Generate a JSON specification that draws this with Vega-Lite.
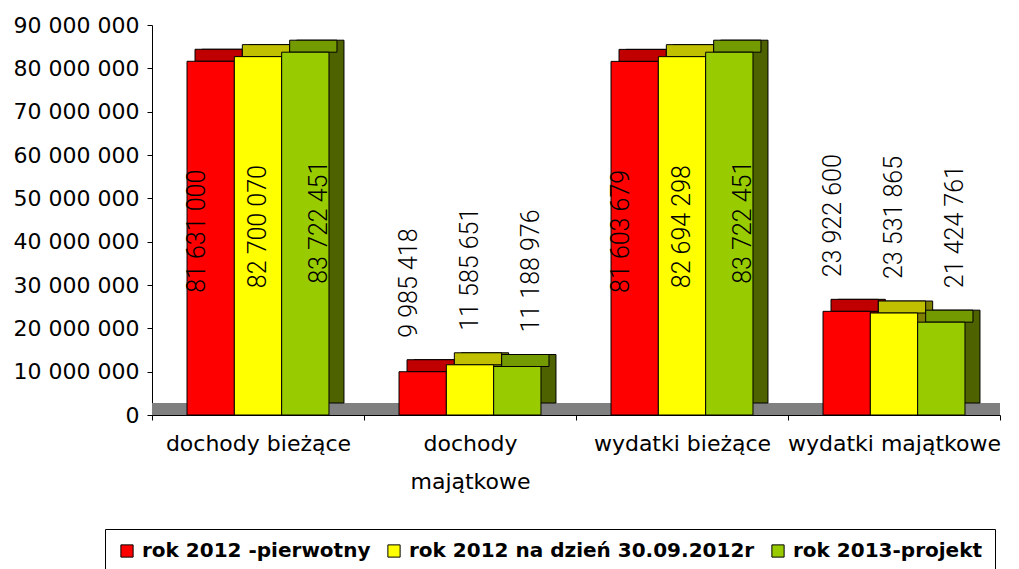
{
  "$schema": "https://vega.github.io/schema/vega-lite/v6.json",
  "width": 848,
  "height": 390,
  "autosize": {"type": "none"},
  "padding": {"left": 152, "top": 25, "right": 19, "bottom": 154},
  "background": "white",
  "config": {
    "locale": {"number": {"decimal": ",", "thousands": " ", "grouping": [3], "currency": ["", " zł"]}},
    "view": {"stroke": null}
  },
  "data": {
    "values": [
      {"kategoria": "dochody bieżące", "seria": "rok 2012 -pierwotny", "wartosc": 81631000},
      {"kategoria": "dochody bieżące", "seria": "rok 2012 na dzień 30.09.2012r", "wartosc": 82700070},
      {"kategoria": "dochody bieżące", "seria": "rok 2013-projekt", "wartosc": 83722451},
      {"kategoria": "dochody majątkowe", "seria": "rok 2012 -pierwotny", "wartosc": 9985418},
      {"kategoria": "dochody majątkowe", "seria": "rok 2012 na dzień 30.09.2012r", "wartosc": 11585651},
      {"kategoria": "dochody majątkowe", "seria": "rok 2013-projekt", "wartosc": 11188976},
      {"kategoria": "wydatki bieżące", "seria": "rok 2012 -pierwotny", "wartosc": 81603679},
      {"kategoria": "wydatki bieżące", "seria": "rok 2012 na dzień 30.09.2012r", "wartosc": 82694298},
      {"kategoria": "wydatki bieżące", "seria": "rok 2013-projekt", "wartosc": 83722451},
      {"kategoria": "wydatki majątkowe", "seria": "rok 2012 -pierwotny", "wartosc": 23922600},
      {"kategoria": "wydatki majątkowe", "seria": "rok 2012 na dzień 30.09.2012r", "wartosc": 23531865},
      {"kategoria": "wydatki majątkowe", "seria": "rok 2013-projekt", "wartosc": 21424761}
    ]
  },
  "resolve": {"scale": {"fill": "independent", "xOffset": "independent"}},
  "layer": [
    {
      "mark": {"type": "rule", "color": "#808080", "strokeWidth": 12, "yOffset": -6},
      "encoding": {"y": {"datum": 0, "type": "quantitative"}}
    },
    {
      "mark": {"type": "bar", "yOffset": -12, "y2Offset": -12, "stroke": "black", "strokeWidth": 1},
      "encoding": {
        "x": {"field": "kategoria", "type": "nominal", "sort": null, "scale": {"paddingInner": 0, "paddingOuter": 0}},
        "xOffset": {"field": "seria", "sort": null, "scale": {"paddingOuter": 0.74, "paddingInner": 0, "range": [15, 227]}},
        "y": {"field": "wartosc", "type": "quantitative", "stack": null},
        "y2": {"datum": 0},
        "fill": {"field": "seria", "sort": null, "scale": {"range": ["#800000", "#808000", "#4F6200"]}, "legend": null}
      }
    },
    {
      "mark": {"type": "bar", "yOffset": -12, "y2Offset": 0, "stroke": "black", "strokeWidth": 1},
      "encoding": {
        "x": {"field": "kategoria", "type": "nominal", "sort": null},
        "xOffset": {"field": "seria", "sort": null, "scale": {"paddingOuter": 0.74, "paddingInner": 0, "range": [8, 220]}},
        "y": {"field": "wartosc", "type": "quantitative", "stack": null},
        "y2": {"field": "wartosc"},
        "fill": {"field": "seria", "sort": null, "scale": {"range": ["#C00000", "#C0C000", "#739A00"]}, "legend": null}
      }
    },
    {
      "mark": {"type": "bar", "stroke": "black", "strokeWidth": 1},
      "encoding": {
        "x": {
          "field": "kategoria", "type": "nominal", "sort": null, "title": null,
          "axis": {
            "labelAngle": 0, "labelAlign": "center", "labelFont": "DejaVu Sans", "labelFontSize": 22, "labelColor": "black",
            "labelExpr": "datum.label == 'dochody majątkowe' ? ['dochody', 'majątkowe'] : datum.label",
            "labelLineHeight": 38, "labelPadding": 13, "labelBaseline": "top",
            "tickBand": "extent", "tickSize": 5, "tickColor": "black", "domainColor": "black", "labelLimit": 300
          }
        },
        "xOffset": {"field": "seria", "sort": null, "scale": {"paddingOuter": 0.74, "paddingInner": 0}},
        "y": {
          "field": "wartosc", "type": "quantitative", "stack": null, "title": null,
          "scale": {"domain": [0, 90000000], "nice": false},
          "axis": {
            "values": [0, 10000000, 20000000, 30000000, 40000000, 50000000, 60000000, 70000000, 80000000, 90000000],
            "format": ",d", "grid": false, "labelFont": "DejaVu Sans", "labelFontSize": 22, "labelColor": "black",
            "tickSize": 5, "tickColor": "black", "domainColor": "black", "labelPadding": 8
          }
        },
        "color": {
          "field": "seria", "type": "nominal", "sort": null,
          "scale": {"range": ["#FF0000", "#FFFF00", "#99CC00"]},
          "legend": {
            "title": null, "orient": "none", "legendX": -47, "legendY": 504, "direction": "horizontal", "columns": 3,
            "padding": 12, "strokeColor": "black", "fillColor": "white", "columnPadding": 13, "labelOffset": 5,
            "symbolType": "square", "symbolSize": 150, "symbolStrokeColor": "black", "symbolStrokeWidth": 1,
            "labelFont": "DejaVu Sans", "labelFontWeight": "bold", "labelFontSize": 20, "labelColor": "black", "labelLimit": 400
          }
        }
      }
    },
    {
      "transform": [{"filter": "datum.wartosc > 50000000"}],
      "mark": {"type": "text", "angle": 270, "align": "center", "baseline": "middle", "dx": -170, "font": "Roboto", "fontWeight": 300, "fontSize": 25, "color": "black"},
      "encoding": {
        "x": {"field": "kategoria", "type": "nominal", "sort": null},
        "xOffset": {"field": "seria", "sort": null, "scale": {"paddingOuter": 0.74, "paddingInner": 0}},
        "y": {"field": "wartosc", "type": "quantitative", "stack": null},
        "text": {"field": "wartosc", "type": "quantitative", "format": ",d"}
      }
    },
    {
      "transform": [{"filter": "datum.wartosc < 50000000"}],
      "mark": {"type": "text", "angle": 270, "align": "left", "baseline": "middle", "dx": 34, "font": "Roboto", "fontWeight": 300, "fontSize": 25, "color": "black"},
      "encoding": {
        "x": {"field": "kategoria", "type": "nominal", "sort": null},
        "xOffset": {"field": "seria", "sort": null, "scale": {"paddingOuter": 0.74, "paddingInner": 0}},
        "y": {"field": "wartosc", "type": "quantitative", "stack": null},
        "text": {"field": "wartosc", "type": "quantitative", "format": ",d"}
      }
    }
  ]
}
